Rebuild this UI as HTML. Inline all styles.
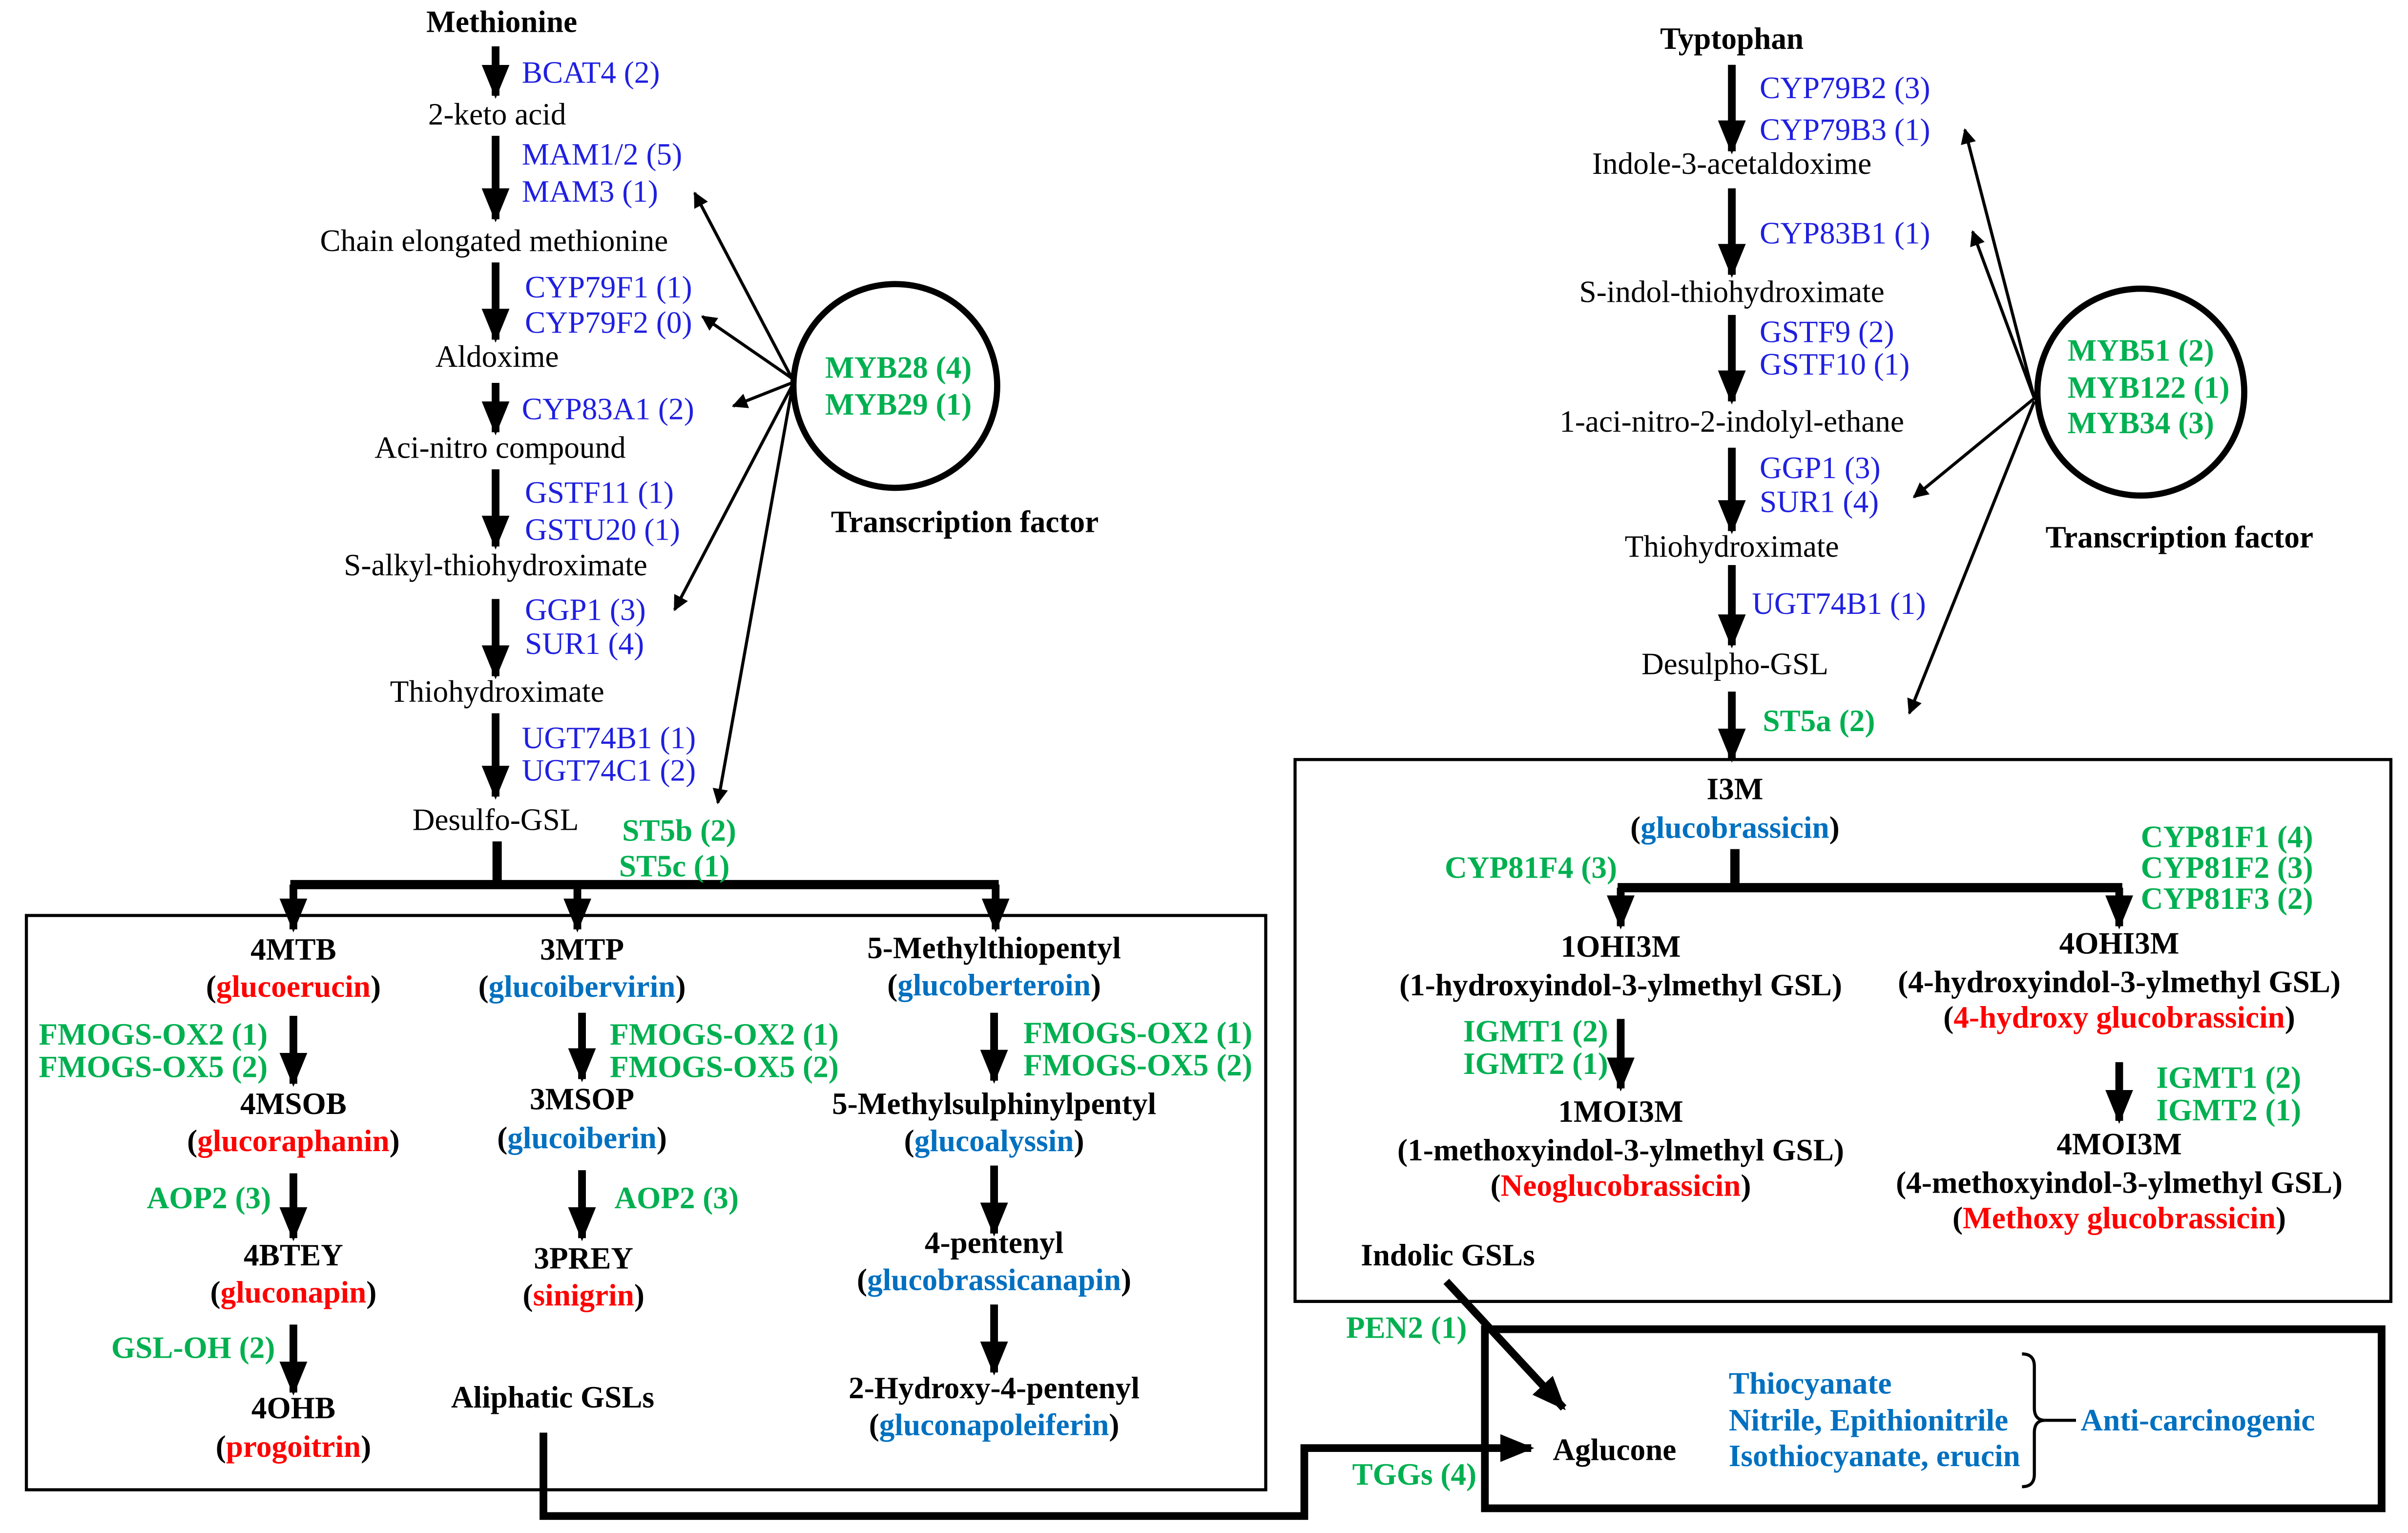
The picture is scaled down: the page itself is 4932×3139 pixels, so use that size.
<!DOCTYPE html>
<html><head><meta charset="utf-8"><style>
html,body{margin:0;padding:0;background:#fff;width:4932px;height:3139px;overflow:hidden}
svg{display:block}
text{font-family:"Liberation Serif",serif;font-size:20px;dominant-baseline:central}
.b{font-weight:bold}
.g{fill:#00b050;font-weight:bold}
.u{fill:#1f1fe0}
.r{fill:#ff0000}
.c{fill:#0070c0}
.m{text-anchor:middle}
</style></head><body>
<svg width="4932" height="3139" viewBox="0 0 1560 993" xmlns="http://www.w3.org/2000/svg">
<defs>
<marker id="ah" markerWidth="10" markerHeight="10" refX="9" refY="5" orient="auto" markerUnits="userSpaceOnUse"><path d="M0,0 L10,5 L0,10 z" fill="#000"/></marker>
<marker id="bh" markerWidth="22" markerHeight="18" refX="20" refY="9" orient="auto" markerUnits="userSpaceOnUse"><path d="M0,0 L22,9 L0,18 z" fill="#000"/></marker>
</defs>
<g stroke="#000" stroke-width="5" marker-end="url(#bh)" fill="none">
<line x1="321" y1="30" x2="321" y2="62"/>
<line x1="321" y1="88" x2="321" y2="142"/>
<line x1="321" y1="170" x2="321" y2="220"/>
<line x1="321" y1="248" x2="321" y2="280"/>
<line x1="321" y1="304" x2="321" y2="354"/>
<line x1="321" y1="388" x2="321" y2="438"/>
<line x1="321" y1="462" x2="321" y2="516"/>
<line x1="190" y1="573" x2="190" y2="602"/>
<line x1="374" y1="573" x2="374" y2="602"/>
<line x1="645" y1="573" x2="645" y2="602"/>
<line x1="190" y1="658" x2="190" y2="702"/>
<line x1="190" y1="760" x2="190" y2="802"/>
<line x1="190" y1="858" x2="190" y2="902"/>
<line x1="377" y1="656" x2="377" y2="699"/>
<line x1="377" y1="758" x2="377" y2="802"/>
<line x1="644" y1="656" x2="644" y2="700"/>
<line x1="644" y1="755" x2="644" y2="799"/>
<line x1="644" y1="845" x2="644" y2="889"/>
<line x1="1122" y1="42" x2="1122" y2="98"/>
<line x1="1122" y1="122" x2="1122" y2="178"/>
<line x1="1122" y1="204" x2="1122" y2="260"/>
<line x1="1122" y1="290" x2="1122" y2="344"/>
<line x1="1122" y1="366" x2="1122" y2="418"/>
<line x1="1122" y1="448" x2="1122" y2="492"/>
<line x1="1050" y1="575" x2="1050" y2="600"/>
<line x1="1373" y1="575" x2="1373" y2="600"/>
<line x1="1050" y1="660" x2="1050" y2="705"/>
<line x1="1373" y1="688" x2="1373" y2="726"/>
<line x1="937" y1="830" x2="1013" y2="912"/>
<polyline points="352,928 352,982 845,982 845,938 992,938"/>
</g>
<g stroke="#000" stroke-width="6" fill="none">
<line x1="322" y1="545" x2="322" y2="573"/>
<line x1="188" y1="573" x2="647" y2="573"/>
<line x1="1124" y1="550" x2="1124" y2="575"/>
<line x1="1048" y1="575" x2="1375" y2="575"/>
</g>
<g stroke="#000" stroke-width="2" fill="none">
<rect x="17" y="593" width="803" height="372"/>
<rect x="839" y="492" width="710" height="351"/>
<circle cx="580" cy="250" r="66" stroke-width="4"/>
<circle cx="1387" cy="254" r="67" stroke-width="4"/>
<path d="M1310,877 q8,0 8,8 v27 q0,8 7,8 q-7,0 -7,8 v27 q0,8 -8,8"/>
<line x1="1325" y1="920" x2="1345" y2="920"/>
</g>
<rect x="962" y="861" width="581" height="116" fill="none" stroke="#000" stroke-width="5"/>
<g stroke="#000" stroke-width="2" marker-end="url(#ah)">
<line x1="513" y1="245" x2="450" y2="125"/>
<line x1="513" y1="245" x2="455" y2="205"/>
<line x1="513" y1="248" x2="475" y2="263"/>
<line x1="513" y1="250" x2="437" y2="395"/>
<line x1="513" y1="252" x2="465" y2="520"/>
<line x1="1318" y1="258" x2="1273" y2="84"/>
<line x1="1318" y1="258" x2="1278" y2="150"/>
<line x1="1318" y1="258" x2="1240" y2="322"/>
<line x1="1318" y1="260" x2="1237" y2="462"/>
</g>
<text x="325" y="14" class="b m">Methionine</text>
<text x="338" y="47" class="u">BCAT4 (2)</text>
<text x="322" y="74" class="m">2-keto acid</text>
<text x="338" y="100" class="u">MAM1/2  (5)</text>
<text x="338" y="124" class="u">MAM3  (1)</text>
<text x="320" y="156" class="m">Chain elongated  methionine</text>
<text x="340" y="186" class="u">CYP79F1 (1)</text>
<text x="340" y="209" class="u">CYP79F2 (0)</text>
<text x="322" y="231" class="m">Aldoxime</text>
<text x="338" y="265" class="u">CYP83A1 (2)</text>
<text x="324" y="290" class="m">Aci-nitro  compound</text>
<text x="340" y="319" class="u">GSTF11 (1)</text>
<text x="340" y="343" class="u">GSTU20 (1)</text>
<text x="321" y="366" class="m">S-alkyl-thiohydroximate</text>
<text x="340" y="395" class="u">GGP1 (3)</text>
<text x="340" y="417" class="u">SUR1 (4)</text>
<text x="322" y="448" class="m">Thiohydroximate</text>
<text x="338" y="478" class="u">UGT74B1 (1)</text>
<text x="338" y="499" class="u">UGT74C1 (2)</text>
<text x="321" y="531" class="m">Desulfo-GSL</text>
<text x="403" y="538" class="g">ST5b (2)</text>
<text x="401" y="561" class="g">ST5c (1)</text>
<text x="582" y="238" class="g m">MYB28 (4)</text>
<text x="582" y="262" class="g m">MYB29 (1)</text>
<text x="625" y="338" class="b m">Transcription factor</text>
<text x="190" y="615" class="b m">4MTB</text>
<text x="190" y="639" class="b m">(<tspan class="r">glucoerucin</tspan>)</text>
<text x="25" y="670" class="g">FMOGS-OX2 (1)</text>
<text x="25" y="691" class="g">FMOGS-OX5 (2)</text>
<text x="190" y="715" class="b m">4MSOB</text>
<text x="190" y="739" class="b m">(<tspan class="r">glucoraphanin</tspan>)</text>
<text x="95" y="776" class="g">AOP2 (3)</text>
<text x="190" y="813" class="b m">4BTEY</text>
<text x="190" y="837" class="b m">(<tspan class="r">gluconapin</tspan>)</text>
<text x="72" y="873" class="g">GSL-OH (2)</text>
<text x="190" y="912" class="b m">4OHB</text>
<text x="190" y="937" class="b m">(<tspan class="r">progoitrin</tspan>)</text>
<text x="377" y="615" class="b m">3MTP</text>
<text x="377" y="639" class="b m">(<tspan class="c">glucoibervirin</tspan>)</text>
<text x="395" y="670" class="g">FMOGS-OX2 (1)</text>
<text x="395" y="691" class="g">FMOGS-OX5 (2)</text>
<text x="377" y="712" class="b m">3MSOP</text>
<text x="377" y="737" class="b m">(<tspan class="c">glucoiberin</tspan>)</text>
<text x="398" y="776" class="g">AOP2 (3)</text>
<text x="378" y="815" class="b m">3PREY</text>
<text x="378" y="839" class="b m">(<tspan class="r">sinigrin</tspan>)</text>
<text x="358" y="905" class="b m">Aliphatic GSLs</text>
<text x="644" y="614" class="b m">5-Methylthiopentyl</text>
<text x="644" y="638" class="b m">(<tspan class="c">glucoberteroin</tspan>)</text>
<text x="663" y="669" class="g">FMOGS-OX2 (1)</text>
<text x="663" y="690" class="g">FMOGS-OX5 (2)</text>
<text x="644" y="715" class="b m">5-Methylsulphinylpentyl</text>
<text x="644" y="739" class="b m">(<tspan class="c">glucoalyssin</tspan>)</text>
<text x="644" y="805" class="b m">4-pentenyl</text>
<text x="644" y="829" class="b m">(<tspan class="c">glucobrassicanapin</tspan>)</text>
<text x="644" y="899" class="b m">2-Hydroxy-4-pentenyl</text>
<text x="644" y="923" class="b m">(<tspan class="c">gluconapoleiferin</tspan>)</text>
<text x="1122" y="25" class="b m">Typtophan</text>
<text x="1140" y="57" class="u">CYP79B2 (3)</text>
<text x="1140" y="84" class="u">CYP79B3 (1)</text>
<text x="1122" y="106" class="m">Indole-3-acetaldoxime</text>
<text x="1140" y="151" class="u">CYP83B1 (1)</text>
<text x="1122" y="189" class="m">S-indol-thiohydroximate</text>
<text x="1140" y="215" class="u">GSTF9 (2)</text>
<text x="1140" y="236" class="u">GSTF10 (1)</text>
<text x="1122" y="273" class="m">1-aci-nitro-2-indolyl-ethane</text>
<text x="1140" y="303" class="u">GGP1 (3)</text>
<text x="1140" y="325" class="u">SUR1 (4)</text>
<text x="1122" y="354" class="m">Thiohydroximate</text>
<text x="1135" y="391" class="u">UGT74B1 (1)</text>
<text x="1124" y="430" class="m">Desulpho-GSL</text>
<text x="1142" y="467" class="g">ST5a (2)</text>
<text x="1387" y="227" class="g m">MYB51 (2)</text>
<text x="1392" y="251" class="g m">MYB122 (1)</text>
<text x="1387" y="274" class="g m">MYB34 (3)</text>
<text x="1412" y="348" class="b m">Transcription factor</text>
<text x="1124" y="511" class="b m">I3M</text>
<text x="1124" y="536" class="b m">(<tspan class="c">glucobrassicin</tspan>)</text>
<text x="936" y="562" class="g">CYP81F4 (3)</text>
<text x="1387" y="542" class="g">CYP81F1 (4)</text>
<text x="1387" y="562" class="g">CYP81F2 (3)</text>
<text x="1387" y="582" class="g">CYP81F3 (2)</text>
<text x="1050" y="613" class="b m">1OHI3M</text>
<text x="1050" y="638" class="b m">(1-hydroxyindol-3-ylmethyl  GSL)</text>
<text x="948" y="668" class="g">IGMT1 (2)</text>
<text x="948" y="689" class="g">IGMT2 (1)</text>
<text x="1050" y="720" class="b m">1MOI3M</text>
<text x="1050" y="745" class="b m">(1-methoxyindol-3-ylmethyl  GSL)</text>
<text x="1050" y="768" class="b m">(<tspan class="r">Neoglucobrassicin</tspan>)</text>
<text x="1373" y="611" class="b m">4OHI3M</text>
<text x="1373" y="636" class="b m">(4-hydroxyindol-3-ylmethyl  GSL)</text>
<text x="1373" y="659" class="b m">(<tspan class="r">4-hydroxy  glucobrassicin</tspan>)</text>
<text x="1397" y="698" class="g">IGMT1 (2)</text>
<text x="1397" y="719" class="g">IGMT2 (1)</text>
<text x="1373" y="741" class="b m">4MOI3M</text>
<text x="1373" y="766" class="b m">(4-methoxyindol-3-ylmethyl  GSL)</text>
<text x="1373" y="789" class="b m">(<tspan class="r">Methoxy glucobrassicin</tspan>)</text>
<text x="938" y="813" class="b m">Indolic GSLs</text>
<text x="872" y="860" class="g">PEN2 (1)</text>
<text x="876" y="955" class="g">TGGs (4)</text>
<text x="1046" y="939" class="b m">Aglucone</text>
<text x="1120" y="896" class="b c">Thiocyanate</text>
<text x="1120" y="920" class="b c">Nitrile, Epithionitrile</text>
<text x="1120" y="943" class="b c">Isothiocyanate, erucin</text>
<text x="1348" y="920" class="b c">Anti-carcinogenic</text>
</svg>
</body></html>
